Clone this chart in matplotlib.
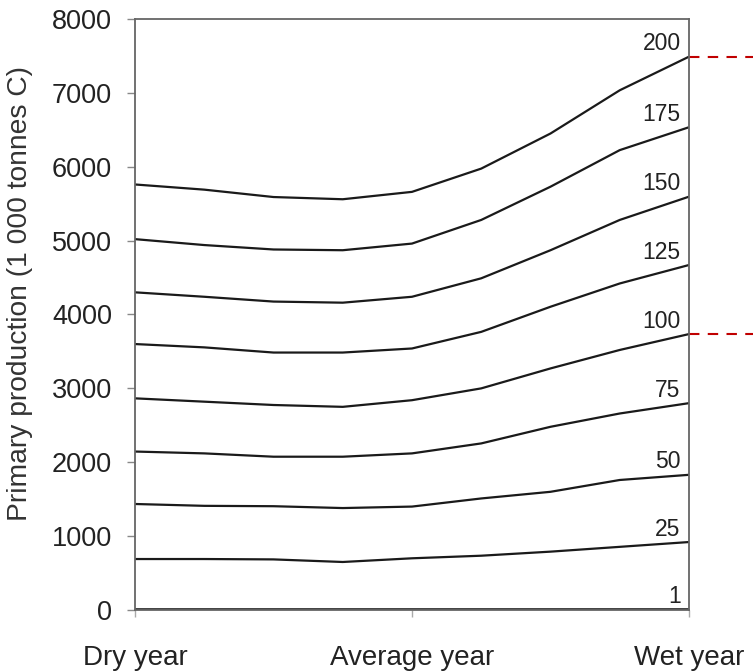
import numpy as np
import matplotlib.pyplot as plt

plt.rcParams['font.family'] = ['Liberation Sans', 'DejaVu Sans']

# positions along the dry -> wet axis
x = [0, 0.25, 0.5, 0.75, 1.0, 1.25, 1.5, 1.75, 2.0]

p200 = [5760, 5690, 5590, 5560, 5660, 5975, 6450, 7035, 7490]
p175 = [5020, 4940, 4880, 4870, 4960, 5280, 5730, 6225, 6535]
p150 = [4300, 4240, 4175, 4160, 4240, 4490, 4870, 5280, 5595]
p125 = [3600, 3555, 3485, 3485, 3540, 3765, 4105, 4420, 4670]
p100 = [2865, 2820, 2775, 2750, 2840, 3000, 3270, 3520, 3735]
p75 = [2145, 2120, 2075, 2075, 2120, 2255, 2480, 2660, 2800]
p50 = [1435, 1410, 1405, 1380, 1400, 1510, 1600, 1760, 1830]
p25 = [690, 690, 685, 650, 700, 735, 790, 855, 920]
p1 = [5, 5, 5, 5, 5, 5, 5, 5, 5]

series = [p1, p25, p50, p75, p100, p125, p150, p175, p200]
names = ['1', '25', '50', '75', '100', '125', '150', '175', '200']
flagged = ['200', '100']   # levels marked with a red guide line

xticks = [0, 1, 2]
xlabels = ['Dry year', 'Average year', 'Wet year']

fig = plt.figure(figsize=(7.53, 6.71), dpi=100)
ax = fig.add_axes([0.1793, 0.0909, 0.7357, 0.8808])

for vals, name in zip(series, names):
    lw = 2.6 if name == '1' else 1.6
    ax.plot(x, vals, color='#1a1a1a', lw=lw, solid_capstyle='butt')
    ax.annotate(name, xy=(x[-1], vals[-1]), xytext=(-6, 1),
                textcoords='offset points', ha='right', va='bottom',
                fontsize=16.5, color='#222222')
    if name in flagged:
        ax.plot([x[-1], 2.25], [vals[-1], vals[-1]], color='#c00000',
                lw=1.5, ls=(0, (5, 4)), clip_on=False)

ax.set_xlim(0, 2)
ax.set_ylim(0, 8000)
ax.set_yticks(range(0, 8001, 1000))
ax.set_xticks(xticks)
ax.set_xticklabels(xlabels)
ax.set_ylabel('Primary production (1 000 tonnes C)', fontsize=20.3,
              color='#333333')
ax.yaxis.set_label_coords(-0.184, 0.535)

for s in ax.spines.values():
    s.set_color('#666666')
    s.set_linewidth(1.3)
ax.tick_params(axis='y', direction='out', length=6, width=1, color='#888888',
               labelsize=19.5, labelcolor='#222222', pad=10.5)
ax.tick_params(axis='x', direction='out', length=5, width=1, color='#aaaaaa',
               labelsize=20, labelcolor='#222222', pad=20)

fig.savefig('out.png', dpi=100)
